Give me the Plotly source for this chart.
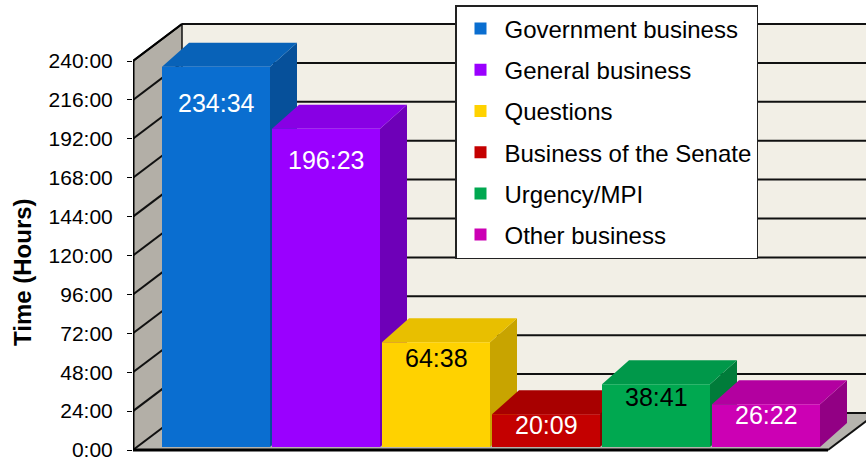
import plotly.graph_objects as go

# ---------------- data ----------------
categories = ["Government business", "General business", "Questions",
              "Business of the Senate", "Urgency/MPI", "Other business"]
hours = [234 + 34/60, 196 + 23/60, 64 + 38/60, 20 + 9/60, 38 + 41/60, 26 + 22/60]
value_labels = ["234:34", "196:23", "64:38", "20:09", "38:41", "26:22"]
tick_values = [0, 24, 48, 72, 96, 120, 144, 168, 192, 216, 240]
tick_labels = ["0:00", "24:00", "48:00", "72:00", "96:00", "120:00",
               "144:00", "168:00", "192:00", "216:00", "240:00"]

# ---------------- styles ----------------
front_colors = ["#0a6ed0", "#9a00ff", "#ffd200", "#c40000", "#00a850", "#cc00b4"]
top_colors   = ["#0862b8", "#8800e4", "#e8bf00", "#a80000", "#00984a", "#b300a0"]
side_colors  = ["#06509a", "#6e00b8", "#c8a400", "#880000", "#007c3a", "#920084"]
label_colors = ["white", "white", "black", "white", "black", "white"]
FONT = "Arial, Liberation Sans, sans-serif"

W, H = 866, 460
ML, MR, MT, MB = 133, 0, 20, 0
PX_X = 110.0                 # px per category
PX_Y = 389.0 / 240.0         # px per hour
x0_px = 216.0                # pixel of category 0 centre
x_left = (ML - x0_px) / PX_X
x_right = x_left + (W - ML - MR) / PX_X
y_low = -(H - MB - 450.0) / PX_Y
y_high = (450.0 - MT) / PX_Y

BAR_W = 108.0 / PX_X
bar_dx = 27.0 / PX_X
bar_dy = 24.0 / PX_Y
bar_base = 3.0 / PX_Y
wall_dx = 49.0 / PX_X
wall_dy = 37.0 / PX_Y
floor_right = (828.0 - x0_px) / PX_X
ymax = tick_values[-1]

def path(pts):
    return "M " + " L ".join(f"{x},{y}" for x, y in pts) + " Z"

shapes = []
# back wall
shapes.append(dict(type="path", xref="x", yref="y", layer="below",
                   path=path([(x_left + wall_dx, wall_dy), (x_right + 1, wall_dy),
                              (x_right + 1, ymax + wall_dy), (x_left + wall_dx, ymax + wall_dy)]),
                   fillcolor="#f2efe6", line=dict(width=0)))
# left side wall
shapes.append(dict(type="path", xref="x", yref="y", layer="below",
                   path=path([(x_left, 0), (x_left, ymax), (x_left + wall_dx, ymax + wall_dy),
                              (x_left + wall_dx, wall_dy)]),
                   fillcolor="#b3afa7", line=dict(width=0)))
# floor
shapes.append(dict(type="path", xref="x", yref="y", layer="below",
                   path=path([(x_left, 0), (floor_right, 0), (floor_right + wall_dx, wall_dy),
                              (x_left + wall_dx, wall_dy)]),
                   fillcolor="#b6b4ae", line=dict(width=0)))
# gridlines on back wall and side wall
for v in tick_values:
    shapes.append(dict(type="line", xref="x", yref="y", layer="below",
                       x0=x_left + wall_dx, x1=x_right + 1, y0=v + wall_dy, y1=v + wall_dy,
                       line=dict(color="#111111", width=2)))
    shapes.append(dict(type="line", xref="x", yref="y", layer="below",
                       x0=x_left, x1=x_left + wall_dx, y0=v, y1=v + wall_dy,
                       line=dict(color="#111111", width=2)))
# wall outline
shapes.append(dict(type="line", xref="x", yref="y", layer="below",
                   x0=x_left + wall_dx, x1=x_left + wall_dx, y0=wall_dy, y1=ymax + wall_dy,
                   line=dict(color="#111111", width=1.5)))
shapes.append(dict(type="line", xref="x", yref="y", layer="below",
                   x0=floor_right, x1=floor_right + wall_dx, y0=0, y1=wall_dy,
                   line=dict(color="#111111", width=2)))

# 3D faces of bars (side then top, left to right), below the front faces
for i, v in enumerate(hours):
    xl = i - BAR_W / 2
    xr = i + BAR_W / 2
    yt = bar_base + v
    shapes.append(dict(type="path", xref="x", yref="y", layer="below",
                       path=path([(xr, bar_base), (xr, yt), (xr + bar_dx, yt + bar_dy),
                                  (xr + bar_dx, bar_base + bar_dy)]),
                       fillcolor=side_colors[i], line=dict(width=0)))
    shapes.append(dict(type="path", xref="x", yref="y", layer="below",
                       path=path([(xl, yt), (xr, yt), (xr + bar_dx, yt + bar_dy),
                                  (xl + bar_dx, yt + bar_dy)]),
                       fillcolor=top_colors[i], line=dict(width=0)))

# front edges
shapes.append(dict(type="line", xref="x", yref="y", layer="above",
                   x0=x_left, x1=x_left, y0=0, y1=ymax,
                   line=dict(color="black", width=3)))
shapes.append(dict(type="line", xref="x", yref="y", layer="above",
                   x0=x_left, x1=floor_right, y0=0, y1=0,
                   line=dict(color="black", width=3)))
shapes.append(dict(type="line", xref="x", yref="y", layer="below",
                   x0=x_left, x1=x_left + wall_dx, y0=ymax, y1=ymax + wall_dy,
                   line=dict(color="black", width=2)))

fig = go.Figure()
for i, (cat, v) in enumerate(zip(categories, hours)):
    fig.add_trace(go.Bar(
        x=[i], y=[v], base=bar_base, width=BAR_W, name=cat, legendgroup=cat,
        marker=dict(color=front_colors[i], line=dict(width=0)),
        hoverinfo="skip"))

annotations = []
for i, (v, lab) in enumerate(zip(hours, value_labels)):
    annotations.append(dict(x=i, y=bar_base + v, xref="x", yref="y", text=lab,
                            showarrow=False, yanchor="middle",
                            yshift=-(8 + 0.12 * v),
                            font=dict(family=FONT, size=25, color=label_colors[i])))
annotations.append(dict(x=(22 - ML) / (W - ML - MR), y=(H - MB - 272) / (H - MT - MB),
                        xref="paper", yref="paper", text="<b>Time (Hours)</b>",
                        xanchor="center", yanchor="middle",
                        textangle=-90, showarrow=False,
                        font=dict(family=FONT, size=24, color="black")))

fig.update_layout(
    width=W, height=H,
    margin=dict(l=ML, r=MR, t=MT, b=MB, autoexpand=False),
    paper_bgcolor="white", plot_bgcolor="white",
    barmode="overlay",
    shapes=shapes, annotations=annotations,
    showlegend=True,
    legend=dict(x=(455 - ML) / (W - ML - MR), y=(H - MB - 5) / (H - MT - MB),
                xanchor="left", yanchor="top", maxheight=420,
                bgcolor="white", bordercolor="#222222", borderwidth=1.5,
                font=dict(family=FONT, size=24, color="black"),
                tracegroupgap=7, itemwidth=38, traceorder="grouped",
                itemclick=False, itemdoubleclick=False),
    xaxis=dict(range=[x_left, x_right], visible=False, fixedrange=True),
    yaxis=dict(range=[y_low, y_high], tickmode="array", tickvals=tick_values,
               ticktext=tick_labels, ticks="outside", ticklen=5, tickcolor="black",
               tickwidth=1, showgrid=False, zeroline=False, showline=False,
               ticklabelstandoff=10, ticklabeloverflow="allow",
               tickfont=dict(family=FONT, size=21, color="black"), fixedrange=True),
    font=dict(family=FONT),
)

fig.write_html("out.html", config={"displayModeBar": False},
               post_script="document.body.style.margin='0px';document.body.style.overflow='hidden';")
